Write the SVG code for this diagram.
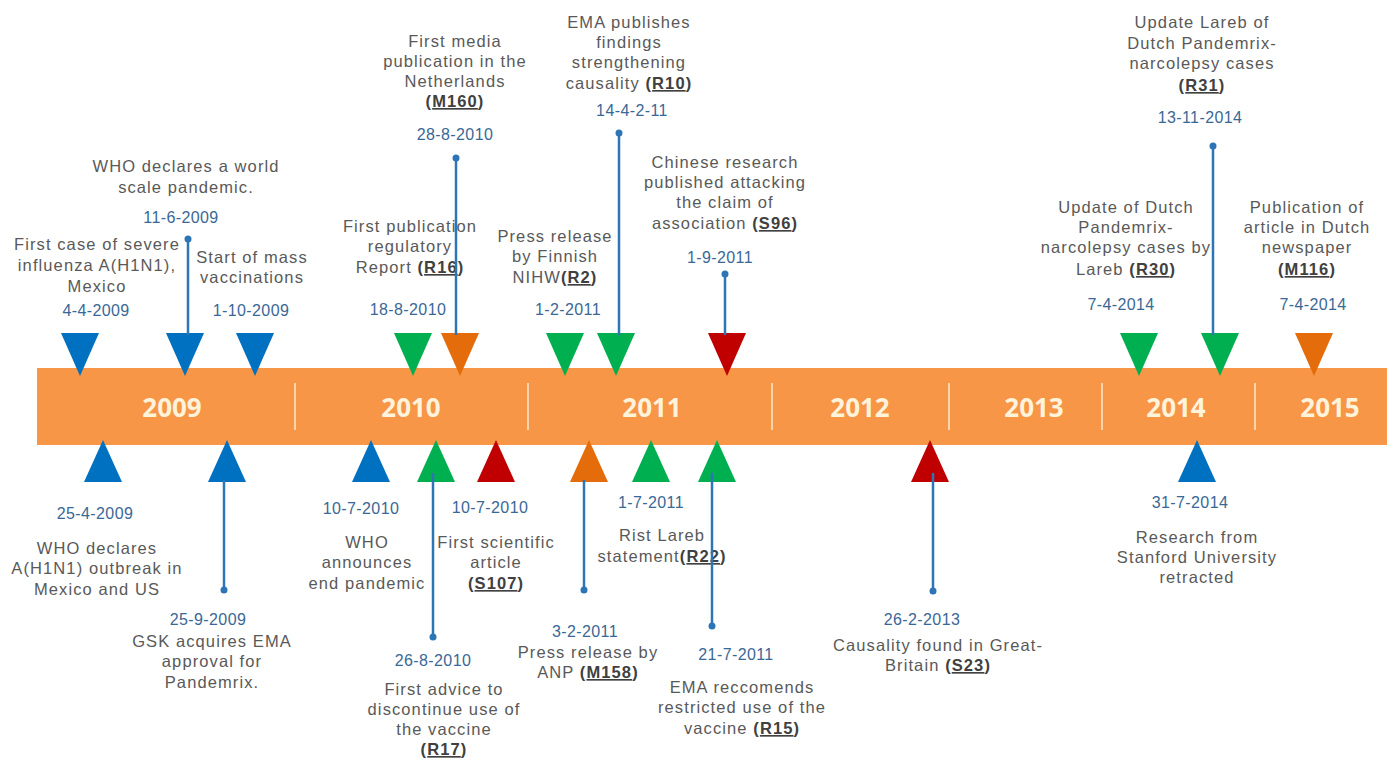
<svg xmlns="http://www.w3.org/2000/svg" width="1394" height="762" viewBox="0 0 1394 762">
<style>
text{font-family:"Liberation Sans",Arial,sans-serif}
.l{font-size:16.5px;letter-spacing:1.1px;fill:#595959;text-anchor:middle}
.b{font-weight:bold;fill:#404040}
.u{text-decoration:underline}
.d{font-size:16px;letter-spacing:0.4px;fill:#3A6896;text-anchor:middle}
.y{font-family:"Open Sans","Liberation Sans",sans-serif;font-size:26px;font-weight:bold;fill:#FFF3DC;text-anchor:middle}
.bl{fill:#0070C0}.gr{fill:#00B050}.or{fill:#E46C0A}.rd{fill:#C00000}
.sep{stroke:#FCE9CF;stroke-width:1.5}
#connectors line{stroke:#2E75B6;stroke-width:2.5}
#connectors circle{fill:#2E75B6}
</style>
<rect width="1394" height="762" fill="#FFFFFF"/>
<g id="timeline-bar">
<rect x="37" y="368" width="1350" height="77" fill="#F79646"/>
<line class="sep" x1="295" y1="383" x2="295" y2="430"/>
<line class="sep" x1="528" y1="383" x2="528" y2="430"/>
<line class="sep" x1="772" y1="383" x2="772" y2="430"/>
<line class="sep" x1="949" y1="383" x2="949" y2="430"/>
<line class="sep" x1="1102" y1="383" x2="1102" y2="430"/>
<line class="sep" x1="1255" y1="383" x2="1255" y2="430"/>
<text class="y" x="172" y="417">2009</text>
<text class="y" x="411" y="417">2010</text>
<text class="y" x="652" y="417">2011</text>
<text class="y" x="860" y="417">2012</text>
<text class="y" x="1034" y="417">2013</text>
<text class="y" x="1176" y="417">2014</text>
<text class="y" x="1330" y="417">2015</text>
</g>
<g id="n1"><polygon class="bl" points="61,333 99,333 80,376"/><text class="d" x="96" y="316">4-4-2009</text><text class="l"><tspan x="97" y="250">First case of severe</tspan><tspan x="97" y="271">influenza A(H1N1),</tspan><tspan x="97" y="292">Mexico</tspan></text></g>
<g id="n2"><polygon class="bl" points="166,333 204,333 185,376"/><text class="d" x="181" y="223">11-6-2009</text><text class="l"><tspan x="186" y="172">WHO declares a world</tspan><tspan x="186" y="193">scale pandemic.</tspan></text></g>
<g id="n3"><polygon class="bl" points="236,333 274,333 255,376"/><text class="d" x="251" y="316">1-10-2009</text><text class="l"><tspan x="252" y="263">Start of mass</tspan><tspan x="252" y="283">vaccinations</tspan></text></g>
<g id="n4"><polygon class="gr" points="394,333 432,333 413,376"/><text class="d" x="408" y="315">18-8-2010</text><text class="l"><tspan x="410" y="232">First publication</tspan><tspan x="410" y="252">regulatory</tspan><tspan x="410" y="273">Report <tspan class="b">(<tspan class="u">R16</tspan>)</tspan></tspan></text></g>
<g id="n5"><polygon class="or" points="441,333 479,333 460,376"/><text class="d" x="455" y="140">28-8-2010</text><text class="l"><tspan x="455" y="47">First media</tspan><tspan x="455" y="67">publication in the</tspan><tspan x="455" y="87">Netherlands</tspan><tspan x="455" y="107" class="b">(<tspan class="u">M160</tspan>)</tspan></text></g>
<g id="n6"><polygon class="gr" points="546,333 584,333 565,376"/><text class="d" x="568" y="315">1-2-2011</text><text class="l"><tspan x="555" y="242">Press release</tspan><tspan x="555" y="262">by Finnish</tspan><tspan x="555" y="283">NIHW<tspan class="b">(<tspan class="u">R2</tspan>)</tspan></tspan></text></g>
<g id="n7"><polygon class="gr" points="597,333 635,333 616,376"/><text class="d" x="632" y="116">14-4-2-11</text><text class="l"><tspan x="629" y="28">EMA publishes</tspan><tspan x="629" y="48">findings</tspan><tspan x="629" y="68">strengthening</tspan><tspan x="629" y="89">causality <tspan class="b">(<tspan class="u">R10</tspan>)</tspan></tspan></text></g>
<g id="n8"><polygon class="rd" points="708,333 746,333 727,376"/><text class="d" x="720" y="263">1-9-2011</text><text class="l"><tspan x="725" y="168">Chinese research</tspan><tspan x="725" y="188">published attacking</tspan><tspan x="725" y="208">the claim of</tspan><tspan x="725" y="229">association <tspan class="b">(<tspan class="u">S96</tspan>)</tspan></tspan></text></g>
<g id="n9"><polygon class="gr" points="1120,333 1158,333 1139,376"/><text class="d" x="1121" y="310">7-4-2014</text><text class="l"><tspan x="1126" y="213">Update of Dutch</tspan><tspan x="1126" y="233">Pandemrix-</tspan><tspan x="1126" y="253">narcolepsy cases by</tspan><tspan x="1126" y="275">Lareb <tspan class="b">(<tspan class="u">R30</tspan>)</tspan></tspan></text></g>
<g id="n10"><polygon class="gr" points="1201,333 1239,333 1220,376"/><text class="d" x="1200" y="123">13-11-2014</text><text class="l"><tspan x="1202" y="28">Update Lareb of</tspan><tspan x="1202" y="49">Dutch Pandemrix-</tspan><tspan x="1202" y="69">narcolepsy cases</tspan><tspan x="1202" y="91" class="b">(<tspan class="u">R31</tspan>)</tspan></text></g>
<g id="n11"><polygon class="or" points="1295,333 1333,333 1314,376"/><text class="d" x="1313" y="310">7-4-2014</text><text class="l"><tspan x="1307" y="213">Publication of</tspan><tspan x="1307" y="233">article in Dutch</tspan><tspan x="1307" y="253">newspaper</tspan><tspan x="1307" y="275" class="b">(<tspan class="u">M116</tspan>)</tspan></text></g>
<g id="n12"><polygon class="bl" points="84,482 122,482 103,440"/><text class="d" x="95" y="519">25-4-2009</text><text class="l"><tspan x="97" y="554">WHO declares</tspan><tspan x="97" y="574">A(H1N1) outbreak in</tspan><tspan x="97" y="595">Mexico and US</tspan></text></g>
<g id="n13"><polygon class="bl" points="208,482 246,482 227,440"/><text class="d" x="208" y="625">25-9-2009</text><text class="l"><tspan x="212" y="647">GSK acquires EMA</tspan><tspan x="212" y="667">approval for</tspan><tspan x="212" y="688">Pandemrix.</tspan></text></g>
<g id="n14"><polygon class="bl" points="352,482 390,482 371,440"/><text class="d" x="361" y="514">10-7-2010</text><text class="l"><tspan x="367" y="548">WHO</tspan><tspan x="367" y="568">announces</tspan><tspan x="367" y="589">end pandemic</tspan></text></g>
<g id="n15"><polygon class="gr" points="417,482 455,482 436,440"/><text class="d" x="433" y="666">26-8-2010</text><text class="l"><tspan x="444" y="695">First advice to</tspan><tspan x="444" y="715">discontinue use of</tspan><tspan x="444" y="735">the vaccine</tspan><tspan x="444" y="755" class="b">(<tspan class="u">R17</tspan>)</tspan></text></g>
<g id="n16"><polygon class="rd" points="477,482 515,482 496,440"/><text class="d" x="490" y="513">10-7-2010</text><text class="l"><tspan x="496" y="548">First scientific</tspan><tspan x="496" y="568">article</tspan><tspan x="496" y="589" class="b">(<tspan class="u">S107</tspan>)</tspan></text></g>
<g id="n17"><polygon class="or" points="570,482 608,482 589,440"/><text class="d" x="585" y="637">3-2-2011</text><text class="l"><tspan x="588" y="658">Press release by</tspan><tspan x="588" y="678">ANP <tspan class="b">(<tspan class="u">M158</tspan>)</tspan></tspan></text></g>
<g id="n18"><polygon class="gr" points="632,482 670,482 651,440"/><text class="d" x="651" y="508">1-7-2011</text><text class="l"><tspan x="662" y="541">Rist Lareb</tspan><tspan x="662" y="562">statement<tspan class="b">(<tspan class="u">R22</tspan>)</tspan></tspan></text></g>
<g id="n19"><polygon class="gr" points="698,482 736,482 717,440"/><text class="d" x="736" y="660">21-7-2011</text><text class="l"><tspan x="742" y="693">EMA reccomends</tspan><tspan x="742" y="713">restricted use of the</tspan><tspan x="742" y="734">vaccine <tspan class="b">(<tspan class="u">R15</tspan>)</tspan></tspan></text></g>
<g id="n20"><polygon class="rd" points="911,482 949,482 930,440"/><text class="d" x="922" y="625">26-2-2013</text><text class="l"><tspan x="938" y="651">Causality found in Great-</tspan><tspan x="938" y="671">Britain <tspan class="b">(<tspan class="u">S23</tspan>)</tspan></tspan></text></g>
<g id="n21"><polygon class="bl" points="1178,482 1216,482 1197,440"/><text class="d" x="1190" y="508">31-7-2014</text><text class="l"><tspan x="1197" y="543">Research from</tspan><tspan x="1197" y="563">Stanford University</tspan><tspan x="1197" y="583">retracted</tspan></text></g>
<g id="connectors">
<line x1="188" y1="239" x2="188" y2="335"/><circle cx="188" cy="239" r="3.5"/>
<line x1="456" y1="158" x2="456" y2="335"/><circle cx="456" cy="158" r="3.5"/>
<line x1="619" y1="133" x2="619" y2="335"/><circle cx="619" cy="133" r="3.5"/>
<line x1="725" y1="274" x2="725" y2="335"/><circle cx="725" cy="274" r="3.5"/>
<line x1="1213" y1="146" x2="1213" y2="335"/><circle cx="1213" cy="146" r="3.5"/>
<line x1="224" y1="480" x2="224" y2="590"/><circle cx="224" cy="590" r="3.5"/>
<line x1="433" y1="473" x2="433" y2="637"/><circle cx="433" cy="637" r="3.5"/>
<line x1="584" y1="480" x2="584" y2="590"/><circle cx="584" cy="590" r="3.5"/>
<line x1="712" y1="473" x2="712" y2="626"/><circle cx="712" cy="626" r="3.5"/>
<line x1="933" y1="473" x2="933" y2="591"/><circle cx="933" cy="591" r="3.5"/>
</g>
</svg>
